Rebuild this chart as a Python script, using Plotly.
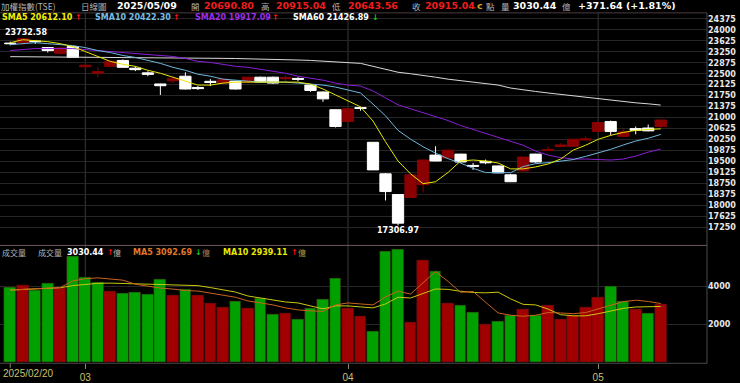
import plotly.graph_objects as go

# ---------------- data ----------------
dates = ["2025/02/20", "2025/02/21", "2025/02/24", "2025/02/25", "2025/02/26", "2025/02/27",
         "2025/03/03", "2025/03/04", "2025/03/05", "2025/03/06", "2025/03/07", "2025/03/10",
         "2025/03/11", "2025/03/12", "2025/03/13", "2025/03/14", "2025/03/17", "2025/03/18",
         "2025/03/19", "2025/03/20", "2025/03/21", "2025/03/24", "2025/03/25", "2025/03/26",
         "2025/03/27", "2025/03/28", "2025/03/31", "2025/04/01", "2025/04/02", "2025/04/07",
         "2025/04/08", "2025/04/09", "2025/04/10", "2025/04/11", "2025/04/14", "2025/04/15",
         "2025/04/16", "2025/04/17", "2025/04/18", "2025/04/21", "2025/04/22", "2025/04/23",
         "2025/04/24", "2025/04/25", "2025/04/28", "2025/04/29", "2025/04/30", "2025/05/02",
         "2025/05/05", "2025/05/06", "2025/05/07", "2025/05/08", "2025/05/09"]

opens = [23550, 23560, 23620, 23395, 23200, 23429, 22740, 22520, 22754, 22956, 22690, 22530,
         22150, 22260, 22416, 22030, 22240, 22179, 22247, 22213, 22382, 22382, 22330, 22340,
         22112, 21875, 21267, 20862, 21340, 20152, 19072, 18362, 18261, 18700, 19713, 19612,
         19747, 19360, 19500, 19342, 19038, 19173, 19747, 19870, 20010, 20017, 20230, 20524,
         20862, 20355, 20620, 20640, 20690.80]
highs = [23600, 23732.58, 23640, 23410, 23410, 23440, 22800, 22720, 22940, 22990, 22754, 22585,
         22160, 22416, 22550, 22078, 22314, 22340, 22260, 22400, 22400, 22400, 22449, 22382,
         22130, 21890, 21280, 21335, 21368, 20160, 19100, 18380, 19060, 19560, 20017, 19900,
         19760, 19443, 19560, 19360, 19072, 19660, 19760, 20017, 20119, 20270, 20355, 20850,
         20896, 20625, 20693, 20760, 20915.04]
lows = [23470, 23480, 23520, 23226, 23150, 23050, 22650, 22382, 22740, 22700, 22590, 22416,
        21774, 22179, 21960, 21943, 22078, 22150, 21960, 22200, 22200, 22150, 22213, 22247,
        21880, 21537, 20660, 20850, 21233, 19200, 18160, 17306.97, 18250, 18430, 19500, 19600,
        19460, 19207, 19400, 19090, 18790, 19150, 19450, 19860, 20000, 20000, 20200, 20510,
        20389, 20340, 20423, 20530, 20643.56]
closes = [23530, 23700, 23600, 23294, 23380, 23058, 22790, 22570, 22923, 22720, 22640, 22480,
          22090, 22330, 21977, 21990, 22200, 22314, 21977, 22382, 22213, 22179, 22360, 22310,
          21926, 21639, 20693, 21301, 21310, 19207, 18464, 17382, 19038, 19545, 19511, 19882,
          19477, 19330, 19450, 19105, 18801, 19646, 19477, 19900, 20060, 20254, 20265, 20828,
          20524, 20510, 20560, 20543.40, 20915.04]

sma5 = [23564, 23665, 23632, 23598, 23530, 23429, 23260, 23091, 22923, 22821, 22754, 22618,
        22517, 22382, 22247, 22112, 22112, 22179, 22213, 22213, 22213, 22213, 22213, 22213,
        22145, 21977, 21774, 21571, 21368, 20880, 20170, 19510, 19072, 18734, 18801, 19120,
        19511, 19545, 19511, 19443, 19241, 19241, 19308, 19409, 19578, 19882, 20051, 20254,
        20389, 20490, 20558, 20592, 20612.10]
sma10 = [23497, 23530, 23564, 23530, 23497, 23463, 23395, 23294, 23226, 23125, 23058, 22956,
         22855, 22720, 22618, 22483, 22416, 22314, 22280, 22247, 22213, 22213, 22213, 22179,
         22145, 22112, 22044, 21943, 21841, 21460, 21060, 20560, 20260, 20000, 19780, 19590,
         19440, 19260, 19115, 19110, 19110, 19320, 19420, 19455, 19513, 19560, 19670, 19780,
         19910, 20060, 20195, 20290, 20422.30]
sma20 = [23294, 23328, 23362, 23362, 23362, 23362, 23328, 23294, 23260, 23226, 23193, 23159,
         23125, 23091, 23024, 22923, 22889, 22821, 22754, 22720, 22652, 22585, 22517, 22416,
         22348, 22280, 22179, 22112, 22078, 21909, 21672, 21436, 21301, 21166, 21031, 20896,
         20727, 20592, 20457, 20321, 20200, 20051, 19848, 19713, 19629, 19578, 19578, 19561,
         19545, 19578, 19680, 19815, 19917.09]
sma60 = [23085, 23083, 23080, 23077, 23074, 23071, 23068, 23065, 23062, 23058, 23054, 23050,
         23046, 23042, 23038, 23034, 23030, 23026, 23021, 23016, 23010, 22997, 22983, 22970,
         22956, 22933, 22909, 22882, 22855, 22754, 22652, 22551, 22500, 22449, 22382, 22314,
         22264, 22213, 22162, 22112, 22010, 21943, 21892, 21841, 21791, 21740, 21689, 21639,
         21588, 21537, 21504, 21470, 21426.89]

volumes = [3950, 4037, 3779, 4157, 3898, 5553, 4431, 4208, 3743, 3640, 3691, 3572, 4327, 3521,
           3810, 3500, 3123, 2864, 3210, 2812, 3345, 2518, 2570, 2259, 2828, 3293, 4415, 2828,
           2435, 1660, 5811, 5930, 2089, 5330, 4777, 3087, 3004, 2606, 2021, 2140, 2487, 2776,
           2487, 3004, 2259, 2487, 2864, 3433, 4002, 3210, 2776, 2570, 3030.44]
# 1 = up day (red), 0 = down day (green)
vol_up = [0, 1, 0, 0, 1, 0, 0, 0, 1, 0, 0, 0, 0, 1, 0, 1, 1, 1, 0, 1, 0, 0, 1, 0, 0, 0, 0,
          1, 1, 0, 0, 0, 1, 1, 0, 1, 0, 0, 1, 0, 0, 1, 0, 1, 1, 1, 1, 1, 0, 0, 1, 0, 1]
vol_ma5 = [3795, 3821, 3872, 3898, 3930, 4270, 4390, 4430, 4363, 4312, 4100, 3990, 3898, 3846,
           3769, 3743, 3640, 3536, 3420, 3226, 3123, 3019, 2864, 2761, 2709, 2683, 3019, 3123,
           3071, 3019, 3433, 3733, 3585, 4164, 4760, 4243, 3680, 3720, 3150, 2600, 2480, 2430,
           2480, 2620, 2600, 2560, 2620, 2820, 3010, 3190, 3265, 3200, 3092.69]
vol_ma10 = [3795, 3821, 3872, 3898, 3914, 4027, 4105, 4146, 4157, 4141, 4120, 4105, 4089, 4079,
            4069, 4027, 3924, 3821, 3691, 3485, 3381, 3278, 3174, 3123, 2968, 2812, 2968, 2968,
            2916, 2864, 3071, 3420, 3380, 3620, 3850, 3830, 3730, 3670, 3650, 3685, 3335, 3050,
            3020, 2800, 2510, 2450, 2450, 2560, 2720, 2840, 2910, 2925, 2939.11]

price_ticks = [17250, 17625, 18000, 18375, 18750, 19125, 19500, 19875, 20250, 20625, 21000,
               21375, 21750, 22125, 22500, 22875, 23250, 23625, 24000, 24375]
vol_ticks = [2000, 4000]
month_idx = [6, 27, 47]
month_labels = ["03", "04", "05"]

# ---------------- styling / layout constants ----------------
W, H = 740, 383
PLOT_R = 707
PRICE_TOP, SEP, VOL_BOT = 13, 248, 366.6

def fx(p):
    return p / W

def fy(p):
    return 1 - p / H

CANDLE_RED = "#8b0000"
VOL_RED = "#a00000"
VOL_GREEN = "#00a000"
GRID = "#262626"
VGRID = "#383838"
NUMFONT = "DejaVu Sans"
CJK = "Noto Sans CJK TC"
GRAY = "#b4b4b4"

idx = list(range(len(dates)))

fig = go.Figure()

fig.add_trace(go.Candlestick(
    x=idx, open=opens, high=highs, low=lows, close=closes,
    increasing=dict(line=dict(color=CANDLE_RED, width=1), fillcolor=CANDLE_RED),
    decreasing=dict(line=dict(color="#ffffff", width=1), fillcolor="#ffffff"),
    whiskerwidth=0, xaxis="x", yaxis="y", hoverinfo="skip"))

for vals, col in [(sma60, "#d8d8d8"), (sma20, "#8a1fd6"), (sma10, "#6fb6dc"), (sma5, "#e6e600")]:
    fig.add_trace(go.Scatter(x=idx, y=vals, mode="lines", line=dict(color=col, width=1),
                             xaxis="x", yaxis="y", hoverinfo="skip"))

fig.add_trace(go.Bar(
    x=idx, y=volumes, width=0.94,
    marker=dict(color=[VOL_RED if u else VOL_GREEN for u in vol_up],
                line=dict(width=0.6, color="#3a1010")),
    xaxis="x2", yaxis="y2", hoverinfo="skip"))
fig.add_trace(go.Scatter(x=idx, y=vol_ma10, mode="lines", line=dict(color="#c8c810", width=1),
                         xaxis="x2", yaxis="y2", hoverinfo="skip"))
fig.add_trace(go.Scatter(x=idx, y=vol_ma5, mode="lines", line=dict(color="#c8641e", width=1),
                         xaxis="x2", yaxis="y2", hoverinfo="skip"))

xr = [-0.82, 55.7]
xdom = [0, fx(PLOT_R)]

shapes = []
for m in month_idx:
    shapes.append(dict(type="line", xref="x", yref="paper", x0=m, x1=m,
                       y0=fy(VOL_BOT), y1=fy(PRICE_TOP), line=dict(color=VGRID, width=1),
                       layer="below"))
# first-date tick mark
shapes.append(dict(type="line", xref="x2", yref="paper", x0=idx[0], x1=idx[0],
                   y0=fy(VOL_BOT + 5), y1=fy(VOL_BOT), line=dict(color="#8a8a70", width=1)))
# frame lines
shapes.append(dict(type="line", xref="paper", yref="paper", x0=0, x1=fx(PLOT_R),
                   y0=fy(PRICE_TOP), y1=fy(PRICE_TOP), line=dict(color="#4a3a3e", width=1)))
shapes.append(dict(type="line", xref="paper", yref="paper", x0=0, x1=fx(PLOT_R),
                   y0=fy(SEP), y1=fy(SEP), line=dict(color="#6e5660", width=1)))
shapes.append(dict(type="line", xref="paper", yref="paper", x0=0, x1=fx(PLOT_R),
                   y0=fy(VOL_BOT + 0.5), y1=fy(VOL_BOT + 0.5), line=dict(color="#484848", width=1)))
shapes.append(dict(type="line", xref="paper", yref="paper", x0=fx(PLOT_R), x1=fx(PLOT_R),
                   y0=fy(VOL_BOT + 0.5), y1=fy(PRICE_TOP), line=dict(color="#4a4a4a", width=1)))

ann = []

def text(x, y, s, color, size=8, family=NUMFONT, bold=True):
    ann.append(dict(x=fx(x), y=fy(y), xref="paper", yref="paper", text=s, showarrow=False,
                    xanchor="left", yanchor="middle", borderpad=0,
                    font=dict(family=family, size=size, color=color,
                              weight="bold" if bold else "normal")))

RED_T = "#f01c1c"
# header row
text(0, 6, "加權指數(TSE)", GRAY, 8.5, CJK, False)
text(80, 6, "日線圖", GRAY, 8.5, CJK, False)
text(116, 6, "2025/05/09", "#ffffff", 9.5)
text(190, 6, "開", GRAY, 8.5, CJK, False)
text(203, 6, "20690.80", RED_T, 9.5)
text(260, 6, "高", GRAY, 8.5, CJK, False)
text(275, 6, "20915.04", RED_T, 9.5)
text(331, 6, "低", GRAY, 8.5, CJK, False)
text(347, 6, "20643.56", RED_T, 9.5)
text(411, 6, "收", GRAY, 8.5, CJK, False)
text(424, 6, "20915.04", RED_T, 9.5)
text(476, 6, "c", "#d4a020", 9.5)
text(485, 6, "點", GRAY, 8.5, CJK, False)
text(500, 6, "量", GRAY, 8.5, CJK, False)
text(512, 6, "3030.44", "#ffffff", 9.5)
text(561, 6, "億", GRAY, 8.5, CJK, False)
text(577, 6, "+371.64 (+1.81%)", "#ffffff", 9.5)

# MA legend row
text(1, 18, "SMA5 20612.10", "#f0f000")
text(74, 18, "↑", "#ff1010")
text(94, 18, "SMA10 20422.30", "#74bce4")
text(172, 18, "↑", "#ff1010")
text(194, 18, "SMA20 19917.09", "#9a2ee8")
text(271, 18, "↑", "#ff1010")
text(292, 18, "SMA60 21426.89", "#ffffff")
text(371, 18, "↓", "#10d010")

# extreme labels
text(4, 33, "23732.58", "#ffffff")
text(376, 233, "17306.97", "#ffffff")

# volume legend row
text(1, 255, "成交量", GRAY, 8, CJK, False)
text(37, 255, "成交量", GRAY, 8, CJK, False)
text(66, 255, "3030.44", "#ffffff")
text(106, 255, "↑", "#ff1010")
text(112, 255, "億", GRAY, 8, CJK, False)
text(132, 255, "MA5 3092.69", "#e07828")
text(194, 255, "↓", "#10d010")
text(201, 255, "億", "#b08050", 8, CJK, False)
text(222, 255, "MA10 2939.11", "#e8e800")
text(290, 255, "↑", "#ff1010")
text(297, 255, "億", "#b0a040", 8, CJK, False)

# first date label
ann.append(dict(x=fx(2), y=fy(377.5), xref="paper", yref="paper", text=dates[0], showarrow=False,
                xanchor="left", yanchor="middle", borderpad=0,
                font=dict(family="Liberation Sans", size=10, color="#c8c070")))

axis_font = dict(family=NUMFONT, size=8, color="#e8e8e8", weight="bold")

fig.update_layout(
    width=W, height=H, margin=dict(l=0, r=0, t=0, b=0, pad=0),
    paper_bgcolor="#000000", plot_bgcolor="#000000",
    showlegend=False, hovermode=False,
    boxgap=0.1, boxgroupgap=0,
    bargap=0,
    xaxis=dict(domain=xdom, range=xr, anchor="y", showticklabels=False, showgrid=False,
               zeroline=False, showline=False, ticks="", rangeslider=dict(visible=False),
               fixedrange=True),
    yaxis=dict(domain=[fy(SEP), fy(PRICE_TOP)], range=[16620, 24585], side="right",
               tickvals=price_ticks, ticktext=[str(t) for t in price_ticks],
               tickfont=axis_font, gridcolor=GRID, gridwidth=1, zeroline=False,
               showline=False, ticks="", fixedrange=True),
    xaxis2=dict(domain=xdom, range=xr, anchor="y2", tickvals=month_idx, ticktext=month_labels,
                ticks="outside", ticklen=5, tickcolor="#8a8a70", tickwidth=1,
                tickfont=dict(family="Liberation Sans", size=10, color="#c8c070"),
                showgrid=False, zeroline=False, showline=False, fixedrange=True),
    yaxis2=dict(domain=[fy(VOL_BOT), fy(SEP)], range=[0, 6125], side="right",
                tickvals=vol_ticks, ticktext=[str(t) for t in vol_ticks],
                tickfont=axis_font, gridcolor=GRID, gridwidth=1, zeroline=False,
                showline=False, ticks="", fixedrange=True),
    shapes=shapes,
    annotations=ann,
)

fig.write_html("out.html")
